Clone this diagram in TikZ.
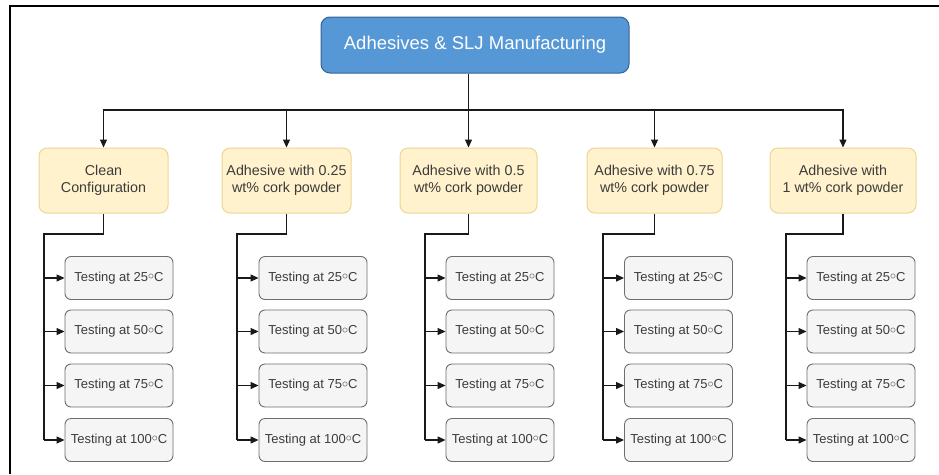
\documentclass[tikz,border=0pt]{standalone}
\usepackage{fontspec}
\setmainfont{Liberation Sans}
\usetikzlibrary{arrows.meta,calc}
\definecolor{topfill}{RGB}{86,151,214}
\definecolor{topdraw}{RGB}{52,100,150}
\definecolor{yfill}{RGB}{255,242,204}
\definecolor{ydraw}{RGB}{236,214,150}
\definecolor{gfill}{RGB}{245,245,245}
\definecolor{gdraw}{RGB}{110,110,110}
\definecolor{gtext}{RGB}{60,60,60}
\definecolor{ln}{RGB}{25,25,25}
\newcommand{\degring}{\raisebox{0.12em}{$\circ$}}
\begin{document}
\begin{tikzpicture}[x=1pt,y=-1pt,
  topbox/.style={draw=topdraw,fill=topfill,line width=1pt,rounded corners=9pt,
    minimum width=308pt,minimum height=56pt,text=white,font=\fontsize{18.5}{21}\selectfont,inner sep=0pt},
  cfgbox/.style={draw=ydraw,fill=yfill,line width=1pt,rounded corners=8pt,
    minimum height=65pt,text=gtext,font=\fontsize{14.3}{17.5}\selectfont,align=center,inner sep=0pt},
  testbox/.style={draw=gdraw,fill=gfill,line width=0.9pt,rounded corners=6pt,
    minimum width=108pt,minimum height=43pt,text=gtext,font=\fontsize{13}{15}\selectfont,inner sep=0pt},
  conn/.style={draw=ln,line width=1.2pt},
  arr/.style={conn,-{Triangle[length=8pt,width=7pt]}}
]
\useasboundingbox (0,0) rectangle (939,474);
\fill[white] (0,0) rectangle (939,474);
% frame (top and left edges)
\draw[black,line width=2.2pt] (10,474) -- (10,6) -- (939,6);

\node[topbox] (top) at (475,45) {Adhesives \& SLJ Manufacturing};

\node[cfgbox,minimum width=129pt] (c1) at (103.5,180.5) {Clean\\Configuration};
\node[cfgbox,minimum width=129pt] (c2) at (286.5,180.5) {Adhesive with 0.25\\wt\% cork powder};
\node[cfgbox,minimum width=137pt] (c3) at (468.5,180.5) {Adhesive with 0.5\\wt\% cork powder};
\node[cfgbox,minimum width=135pt] (c4) at (654.5,180.5) {Adhesive with 0.75\\wt\% cork powder};
\node[cfgbox,minimum width=146pt] (c5) at (843,180.5) {Adhesive with\\1 wt\% cork powder};

\coordinate (bus) at (468.5,110);
\draw[arr] (c3.north |- top.south) -- (c3.north);
\foreach \c in {c1,c2,c4,c5}{
  \draw[arr] (bus) -| (\c.north);
}

% testing columns
\foreach \i/\tx/\bx in {1/119/44,2/313/237,3/500/425,4/678.5/603,5/861/786}{
  \coordinate (b\i) at (\bx,234);
  \node[testbox] (t\i a) at (\tx,278) {Testing at 25\degring C};
  \node[testbox] (t\i b) at (\tx,331.5) {Testing at 50\degring C};
  \node[testbox] (t\i c) at (\tx,385.5) {Testing at 75\degring C};
  \node[testbox] (t\i d) at (\tx,440) {Testing at 100\degring C};
  \draw[conn] (c\i.south) |- (b\i) -- (b\i |- t\i d.west);
  \foreach \r in {a,b,c,d}{
    \draw[arr] (b\i |- t\i\r.west) -- (t\i\r.west);
  }
}
\end{tikzpicture}
\end{document}
